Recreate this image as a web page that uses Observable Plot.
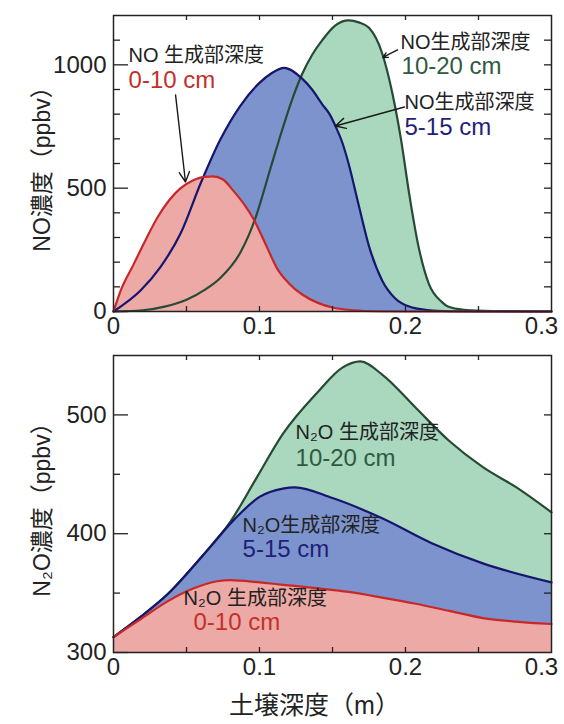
<!DOCTYPE html>
<html><head><meta charset="utf-8">
<script src="https://cdn.jsdelivr.net/npm/d3@7"></script>
<script src="https://cdn.jsdelivr.net/npm/@observablehq/plot@0.6"></script>
<style>
html,body{margin:0;padding:0;background:#fff;}
#chart{width:564px;height:724px;}
#chart svg{display:block;}
</style></head><body><div id="chart"></div>
<script>
// ---------- data ----------
const depthDomain = [0, 0.3];
const depthTicks = [0, 0.1, 0.2];
const depthLastTick = [0.3];
const depthMinorTicks = [0.05, 0.1, 0.15, 0.2, 0.25];

const noDomain = [0, 1200];
const noTicks = [0, 500, 1000];
const noMinorTicks = [100, 200, 300, 400, 600, 700, 800, 900, 1100];
const noAllTicks = [100, 200, 300, 400, 500, 600, 700, 800, 900, 1000, 1100];

const n2oDomain = [300, 550];
const n2oTicks = [300, 400, 500];
const n2oMinorTicks = [350, 450];
const n2oAllTicks = [350, 400, 450, 500];

// NO concentration (ppbv) vs soil depth (m)
const noRed = [[0,0],[0.0046,80],[0.0137,190],[0.022,290],[0.03,380],[0.038,450],[0.046,500],[0.054,530],[0.062,546],[0.068,548],[0.075,535],[0.082,490],[0.09,430],[0.096,374],[0.105,262],[0.112,175],[0.12,115],[0.129,70],[0.14,35],[0.15,16],[0.165,5],[0.18,1],[0.2,0],[0.3,0]];
const noBlue = [[0,0],[0.0185,85],[0.032,179],[0.046,317],[0.06,524],[0.073,695],[0.087,835],[0.1,927],[0.108,965],[0.117,988],[0.129,945],[0.136,900],[0.143,840],[0.148,800],[0.152,752],[0.157,680],[0.161,600],[0.168,430],[0.175,265],[0.184,126],[0.193,53],[0.2025,20],[0.215,6],[0.23,1],[0.25,0],[0.3,0]];
const noGreen = [[0,0],[0.02,5],[0.035,20],[0.05,48],[0.063,90],[0.073,135],[0.087,240],[0.097,375],[0.108,590],[0.116,745],[0.123,870],[0.129,960],[0.136,1040],[0.143,1100],[0.152,1160],[0.161,1180],[0.168,1172],[0.175,1150],[0.184,1047],[0.191,885],[0.197,695],[0.2025,478],[0.209,261],[0.216,112],[0.225,38],[0.229,20],[0.24,7],[0.26,2],[0.3,0]];

// N2O concentration (ppbv) vs soil depth (m)
const n2oRed = [[0,313],[0.0185,328],[0.037,343],[0.055,354],[0.071,360],[0.08,361],[0.1,359],[0.116,357],[0.14,354],[0.161,351],[0.185,346],[0.207,341],[0.23,335],[0.253,329],[0.275,326],[0.3,324]];
const n2oBlue = [[0,313],[0.0185,330],[0.037,349],[0.06,380],[0.082,411],[0.1,431],[0.116,438],[0.124,439],[0.15,430],[0.184,413],[0.218,392],[0.253,375],[0.3,359]];
const n2oGreen = [[0,313],[0.0185,330],[0.037,349],[0.06,380],[0.08,410],[0.098,447],[0.116,484],[0.139,518],[0.157,540],[0.169,545],[0.184,534],[0.207,506],[0.23,478],[0.253,456],[0.276,439],[0.3,418]];

// text
const xLabel = "土壌深度（m）";
const noYLabel = "NO濃度（ppbv）";
const n2oYLabel = "N₂O濃度（ppbv）";

const noTitles = [
  {x:0.0103, y:1038, text:"NO 生成部深度"},
  {x:0.1966, y:1090, text:"NO生成部深度"},
  {x:0.1993, y:847, text:"NO生成部深度"}
];
const noDepthLabels = [
  {x:0.0103, y:936, text:"0-10 cm", series:"red"},
  {x:0.1973, y:993, text:"10-20 cm", series:"green"},
  {x:0.1993, y:746, text:"5-15 cm", series:"blue"}
];
const noArrows = [
  {x1:0.0425, y1:878, x2:0.0493, y2:525},
  {x1:0.1945, y1:1061, x2:0.1845, y2:1030},
  {x1:0.1993, y1:829, x2:0.152, y2:752}
];
const n2oTitles = [
  {x:0.1247, y:485.2, text:"N₂O 生成部深度"},
  {x:0.0884, y:406.9, text:"N₂O生成部深度"},
  {x:0.048, y:345.5, text:"N₂O 生成部深度"}
];
const n2oDepthLabels = [
  {x:0.1247, y:463.3, text:"10-20 cm", series:"green"},
  {x:0.0884, y:386.7, text:"5-15 cm", series:"blue"},
  {x:0.0548, y:325.3, text:"0-10 cm", series:"red"}
];

// ---------- styles ----------
const FONT = '"Liberation Sans", Arial, "Noto Sans CJK JP", sans-serif';
const fillCol = {red:"#eca9a5", blue:"#7c93cd", green:"#a9d8bf"};
const lineCol = {red:"#c8282a", blue:"#16166e", green:"#264a33"};
const textCol = {red:"#c3302a", blue:"#1f1f78", green:"#2f5a3f"};
const W = 564, ML = 113, MR = 13;

function panel({height, mt, mb, yDomain, yTicks, yMinor, yAll, series, yLabel, yLabelDy, titles, depthLabels, arrows, extra}) {
  const innerW = W - ML - MR, innerH = height - mt - mb;
  const base = yDomain[0];
  const marks = [];
  for (const [data, key] of series) {
    marks.push(Plot.areaY(data, {x: d => d[0], y1: () => base, y2: d => d[1], fill: fillCol[key], curve: "monotone-x"}));
  }
  for (const [data, key] of series) {
    marks.push(Plot.lineY(data, {x: d => d[0], y: d => d[1], stroke: lineCol[key], strokeWidth: 2.2, curve: "monotone-x"}));
  }
  const tk = {stroke: "#222", strokeWidth: 1.3};
  marks.push(
    Plot.ruleY(yTicks, {...tk, insetRight: innerW - 15}),
    Plot.ruleY(yMinor, {...tk, insetRight: innerW - 7}),
    Plot.ruleY(yAll, {...tk, insetLeft: innerW - 7}),
    Plot.ruleX(depthMinorTicks, {...tk, x: d => d, insetTop: innerH - 5}),
    Plot.ruleX(depthMinorTicks, {...tk, x: d => d, insetBottom: innerH - 5}),
    Plot.frame({stroke: "#222", strokeWidth: 1.5}),
    Plot.axisY({ticks: yTicks, tickSize: 0, tickPadding: 7, fontSize: "24px", label: null, tickFormat: d => String(d)}),
    Plot.axisY({ticks: [], tickSize: 0, label: yLabel, labelAnchor: "center", labelArrow: "none", labelOffset: 80, fontSize: "23px", dy: yLabelDy}),
    Plot.axisX({ticks: depthTicks, tickSize: 0, tickPadding: 5, fontSize: "24px", label: null, tickFormat: d => String(d)}),
    Plot.axisX({ticks: depthLastTick, tickSize: 0, tickPadding: 5, fontSize: "24px", label: null, tickFormat: d => String(d), dx: -10}),
    Plot.arrow(arrows, {x1: "x1", y1: "y1", x2: "x2", y2: "y2", stroke: "#1a1a1a", strokeWidth: 1.4, headLength: 12, headAngle: 55}),
    Plot.text(titles, {x: "x", y: "y", text: "text", textAnchor: "start", fontSize: "20px", fill: "#222"}),
    Plot.text(depthLabels, {x: "x", y: "y", text: "text", textAnchor: "start", fontSize: "24px", fill: d => textCol[d.series]})
  );
  if (extra) marks.push(...extra);
  return Plot.plot({
    width: W, height,
    marginLeft: ML, marginRight: MR, marginTop: mt, marginBottom: mb,
    style: {fontFamily: FONT, background: "#fff", color: "#222", overflow: "visible"},
    x: {domain: depthDomain},
    y: {domain: yDomain},
    color: {type: "identity"},
    marks
  });
}

const topPanel = panel({
  height: 345, mt: 15, mb: 34,
  yDomain: noDomain, yTicks: noTicks, yMinor: noMinorTicks, yAll: noAllTicks,
  series: [[noGreen, "green"], [noBlue, "blue"], [noRed, "red"]],
  yLabel: noYLabel, yLabelDy: 15,
  titles: noTitles, depthLabels: noDepthLabels, arrows: noArrows
});
const bottomPanel = panel({
  height: 379, mt: 10, mb: 72,
  yDomain: n2oDomain, yTicks: n2oTicks, yMinor: n2oMinorTicks, yAll: n2oAllTicks,
  series: [[n2oGreen, "green"], [n2oBlue, "blue"], [n2oRed, "red"]],
  yLabel: n2oYLabel, yLabelDy: 27,
  titles: n2oTitles, depthLabels: n2oDepthLabels, arrows: [],
  extra: [Plot.text([xLabel], {frameAnchor: "bottom", dy: 61, dx: -18, fontSize: "25px", fill: "#222"})]
});
document.getElementById("chart").append(topPanel, bottomPanel);
</script></body></html>
